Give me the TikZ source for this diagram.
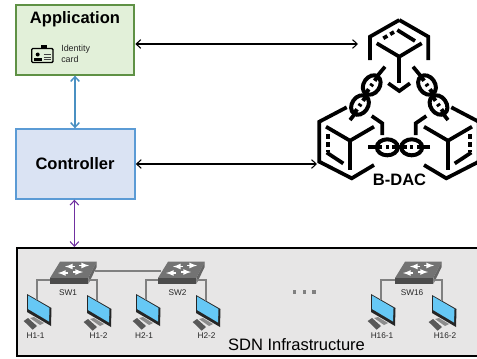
\documentclass[tikz,border=0pt]{standalone}
\usepackage{fontspec}
\setmainfont{Liberation Sans}
\usetikzlibrary{arrows.meta}
\definecolor{appfill}{HTML}{E2F0D9}
\definecolor{appline}{HTML}{5F9145}
\definecolor{ctrlfill}{HTML}{DAE3F3}
\definecolor{ctrlline}{HTML}{5B9BD5}
\definecolor{bluelink}{HTML}{4A90C2}
\definecolor{purplelink}{HTML}{7030A0}
\definecolor{infrafill}{HTML}{E7E6E6}
\definecolor{wire}{HTML}{808080}
\definecolor{screen}{HTML}{66C8F5}
\tikzset{
  boxnode/.style={draw,rectangle,minimum width=89pt,minimum height=52pt,inner sep=0pt},
  titletext/.style={font=\bfseries\fontsize{12.4}{14}\selectfont,inner sep=0pt},
  smalltext/.style={font=\fontsize{6.2}{7}\selectfont,text=black!85,inner sep=0pt},
  biglink/.style={{Straight Barb[length=3.5pt,width=6.5pt]}-{Straight Barb[length=3.5pt,width=6.5pt]},line width=0.8pt},
  wireline/.style={wire,line width=1.2pt},
  block/.style={line width=2.8pt,miter limit=10},
  switchbox/.pic={
    \fill[black!55] (-13,-8.3) -- (23.7,-8.3) -- (15.3,8) -- (-23,8) -- cycle;
    \fill[black!70] (-23,8) -- (15.3,8) -- (15.3,14) -- (-23,14) -- cycle;
    \fill[black!60] (23.7,-8.3) -- (23.7,-3) -- (15.3,14) -- (15.3,8) -- cycle;
    \foreach \ax/\ay/\as in {-3/-3.5/-1,11/-4.5/1,-10/3/-1,5/2/1}
      \draw[white,line width=1pt,-latex] (\ax-\as*5,\ay) -- (\ax+\as*5,\ay);
    \coordinate (-west) at (-23,10);
    \coordinate (-east) at (15.3,10);
    \coordinate (-link) at (22,1);
    \coordinate (-linkin) at (-20,1);
  },
  hostbox/.pic={
    \fill[black!45] (3,24) -- (7,23) -- (17,29) -- (13,31) -- cycle;
    \fill[black!65] (-3.3,27) -- (1,24) -- (10,32) -- (5.7,35.7) -- cycle;
    \fill[black!85] (0,0) -- (24.5,14) -- (24,32) -- (0,18) -- cycle;
    \fill[screen] (1,1.5) -- (22.5,14) -- (22,27.5) -- (1,15) -- cycle;
    \coordinate (-top) at (10,5.5);
  },
  chainlink/.pic={
    \draw[line width=3pt] (0,0) ellipse (10.5 and 8);
    \fill (-10.5,-2) rectangle (10.5,2);
    \fill[white] (-5,-4.2) rectangle (-1.5,4.2);
    \fill[white] (1.5,-4.2) rectangle (5,4.2);
  }
}
\begin{document}
\begin{tikzpicture}[x=0.75pt,y=-0.75pt]
\useasboundingbox (0,0) rectangle (477,358);

\node[boxnode,line width=1.5pt,draw=appline,fill=appfill] (application) at (75,40) {};
\node[boxnode,line width=1.5pt,draw=ctrlline,fill=ctrlfill] (controller) at (75.5,164) {};
\node[titletext] (apptitle) at (75,19) {Application};
\node[titletext] (ctrltitle) at (75,164) {Controller};
\node[smalltext,font=\fontsize{6.7}{8.7}\selectfont,align=left,anchor=west] (idcard) at (61,54) {Identity\\card};

\draw[line width=1pt,rounded corners=0.8pt] (31.7,48.5) rectangle (53,62.5);
\fill[black] (40.5,45) rectangle (46.5,49);
\fill[black] (37.7,54.5) circle (2);
\fill[black] (34,57.5) rectangle (41.5,60.5);
\foreach \ly in {54.5,57,59.5}
  \draw[line width=0.4pt,black!75] (43.5,\ly) -- (50.5,\ly);

\node[draw=black,line width=1.6pt,fill=infrafill,minimum width=352pt,minimum height=81pt,inner sep=0pt,anchor=north west] (infra) at (16,247) {};
\node[font=\fontsize{12.4}{14}\selectfont,inner sep=0pt] (infratext) at (296.5,344.5) {SDN Infrastructure};

\pic (swa) at (73,270) {switchbox};
\pic (swb) at (181,270) {switchbox};
\pic (swp) at (418,270) {switchbox};
\pic (haa) at (27,294) {hostbox};
\pic (hab) at (87,295) {hostbox};
\pic (hba) at (136,294) {hostbox};
\pic (hbb) at (196,295) {hostbox};
\pic (hpa) at (371,294) {hostbox};
\pic (hpb) at (432,295) {hostbox};

\draw[wireline] (swa-west) -| (haa-top);
\draw[wireline] (swa-east) -| (hab-top);
\draw[wireline] (swb-west) -| (hba-top);
\draw[wireline] (swb-east) -| (hbb-top);
\draw[wireline] (swp-west) -| (hpa-top);
\draw[wireline] (swp-east) -| (hpb-top);
\draw[wireline] (swa-link) -- (swb-linkin);

\foreach \nname/\nx/\ny/\ntext in {sa/68/293/SW1,sb/177.5/293/SW2,sp/412/292.5/SW16,
  la/35.5/336/H1-1,lb/98.5/336/H1-2,lc/144/336/H2-1,ld/206.5/336/H2-2,le/382/336/H16-1,lf/445/336/H16-2}
  \node[smalltext] (\nname) at (\nx,\ny) {\ntext};

\foreach \dx in {294.7,304.5,314}
  \fill[black!50] (\dx-1.7,290.3) rectangle (\dx+1.7,293.7);

\foreach \cx/\flip in {0/1,798/-1}{
  \begin{scope}[shift={(\cx,0)},xscale=\flip]
    \draw[block] (346.7,107.3) -- (319.3,121.7) -- (319.3,161.7) -- (351.7,178.3) -- (374,165);
    \draw[block] (326,126.7) -- (350,140.7) -- (374,126.7);
    \draw[block] (350,140.7) -- (350,170);
    \draw[block] (371.7,116) -- (382.3,123.3) -- (382.3,135);
    \draw[block,dash pattern=on 3.5pt off 2.5pt] (328.3,134) -- (328.3,152);
    \draw[block] (326.7,152.5) -- (343.3,163.5);
    \draw[block] (385,66.7) -- (376.7,76.7);
    \draw[block] (356.7,111.7) -- (350,120);
    \draw[block] (368,147.3) -- (378,147.3);
  \end{scope}
}
\draw[block] (399.3,20) -- (370,36.7) -- (370,60);
\draw[block] (399.3,20) -- (428.3,36.7) -- (428.3,60);
\draw[block] (376.7,43.3) -- (399.3,56.7) -- (421.7,43.3);
\draw[block] (399.3,56.7) -- (399.3,83);
\draw[block] (388.3,83.3) -- (399.3,91) -- (410,83.3);
\draw[block,dash pattern=on 3.5pt off 2.5pt] (383.3,38.3) -- (394,32);
\draw[block] (397.3,30) -- (415,41);
\draw[block] (396,147.3) -- (403,147.3);

\pic[rotate=0] at (387.3,147.3) {chainlink};
\pic[rotate=0] at (411.7,147.3) {chainlink};
\pic[rotate=55] at (371.7,85) {chainlink};
\pic[rotate=55] at (360,105) {chainlink};
\pic[rotate=-55] at (427,85) {chainlink};
\pic[rotate=-55] at (438.5,105) {chainlink};

\node[titletext] (bdac) at (399.5,180) {B-DAC};
\coordinate (bdactop) at (358,44);
\coordinate (bdacleft) at (317,164);

\draw[biglink] ([yshift=-3pt]application.east) -- (bdactop);
\draw[biglink] (controller.east) -- (bdacleft);
\draw[biglink,line width=1.1pt,draw=bluelink] (application.south) -- (application.south |- controller.north);
\draw[biglink,draw=purplelink] ([xshift=-0.8pt]controller.south) -- ([xshift=-0.8pt]controller.south |- infra.north);
\end{tikzpicture}
\end{document}
